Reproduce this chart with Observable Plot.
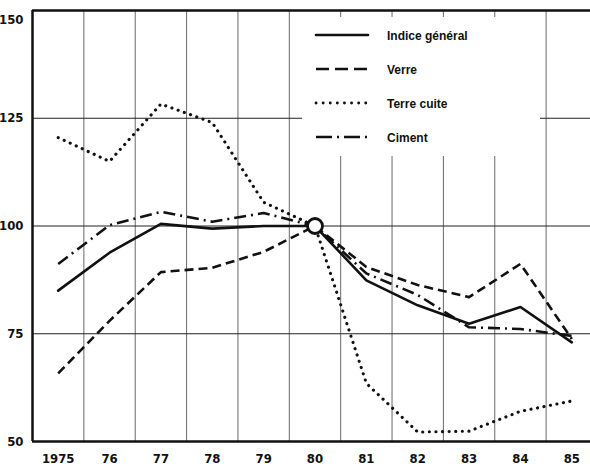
<!DOCTYPE html>
<html>
<head>
<meta charset="utf-8">
<script src="https://cdn.jsdelivr.net/npm/d3@7"></script>
<script src="https://cdn.jsdelivr.net/npm/@observablehq/plot@0.6"></script>
<style>
  html, body { margin: 0; padding: 0; background: #fff; }
  #wrap { position: relative; width: 590px; height: 468px; overflow: hidden; }
  #legend { position: absolute; left: 302px; top: 17px; width: 238px; height: 139px; background: #fff; }
  #legend svg { display: block; }
</style>
</head>
<body>
<div id="wrap"><div id="chart"></div><div id="legend"></div></div>
<script>
// Data (base 1980 = 100)
const years = [1975, 1976, 1977, 1978, 1979, 1980, 1981, 1982, 1983, 1984, 1985];
const yearLabels = ["1975", "76", "77", "78", "79", "80", "81", "82", "83", "84", "85"];
const yTicks = [50, 75, 100, 125, 150];
const seriesNames = ["Indice général", "Verre", "Terre cuite", "Ciment"];
const indiceGeneral = [85, 93.8, 100.5, 99.4, 100, 100, 87.4, 81.6, 77.3, 81.2, 73];
const verre = [65.8, 78, 89.3, 90.3, 94, 100, 90.5, 86.3, 83.5, 91.2, 73.8];
const terreCuite = [120.5, 115, 128.3, 124, 105.5, 100, 63.5, 52.2, 52.4, 57, 59.4];
const ciment = [91.2, 100.2, 103.3, 101, 103, 100, 89, 84, 76.5, 76.1, 74.5];
const baseYear = [1980];
const baseValue = [100];

const seriesValues = [indiceGeneral, verre, terreCuite, ciment];
const dashes = [null, "9,5", "0.1,6.5", "12,5,2,5"];
const caps = ["round", "butt", "round", "butt"];
const widths = [2.6, 2.6, 3.1, 2.6];

const rows = seriesNames.map((name, s) => years.map((year, i) => ({series: name, year, value: seriesValues[s][i]})));
const gridX = years.map(y => y + 0.5);
const gridY = yTicks.filter(v => v > 50 && v < 150);

const fontFam = "'Liberation Sans Narrow', 'DejaVu Sans Condensed', 'Liberation Sans', sans-serif";

const chart = Plot.plot({
  width: 590,
  height: 468,
  marginLeft: 32,
  marginRight: 0,
  marginTop: 10,
  marginBottom: 27,
  style: {fontFamily: fontFam, fontSize: "13px", fontWeight: "bold", color: "#111", background: "#fff"},
  x: {type: "linear", domain: [1974.5, 1985.364], label: null},
  y: {domain: [50, 150], label: null},
  marks: [
    Plot.ruleX(gridX, {stroke: "#6a6a6a", strokeWidth: 1}),
    Plot.ruleY(gridY, {stroke: "#222", strokeWidth: 1}),
    Plot.ruleY([150], {stroke: "#111", strokeWidth: 2.5}),
    Plot.ruleY([50], {stroke: "#111", strokeWidth: 2.5}),
    Plot.ruleX([1974.5], {stroke: "#111", strokeWidth: 2.5}),
    ...rows.map((r, s) => Plot.line(r, {
      x: "year", y: "value", stroke: "#111", strokeWidth: widths[s],
      strokeDasharray: dashes[s], strokeLinecap: caps[s], strokeLinejoin: "round"
    })),
    Plot.dot(baseYear.map((y, i) => ({year: y, value: baseValue[i]})), {x: "year", y: "value", r: 7.5, fill: "#fff", stroke: "#111", strokeWidth: 2.8}),
    Plot.axisY({ticks: yTicks, tickSize: 0, tickPadding: 9, fontSize: 13, fontWeight: "bold"}),
    Plot.axisX({ticks: years, tickFormat: (d) => yearLabels[years.indexOf(d)], tickSize: 0, tickPadding: 12, fontSize: 13, fontWeight: "bold"})
  ]
});
// nudge the top y label below the frame line like the reference
d3.select(chart).selectAll("[aria-label='y-axis tick label'] text").filter(function() { return this.textContent === "150"; }).attr("dy", "0.75em");
document.getElementById("chart").appendChild(chart);

// Legend (drawn inside a white box over the plot)
const lg = d3.select("#legend").append("svg").attr("width", 238).attr("height", 139);
seriesNames.forEach((name, s) => {
  const cy = 18 + s * 34;
  lg.append("line").attr("x1", 14).attr("x2", 66).attr("y1", cy).attr("y2", cy)
    .attr("stroke", "#111").attr("stroke-width", s === 2 ? 2.8 : 2.6)
    .attr("stroke-dasharray", s === 1 ? "13,6" : s === 2 ? "0.1,7" : s === 3 ? "16,5,2,5" : null)
    .attr("stroke-linecap", caps[s]);
  lg.append("text").attr("x", 85).attr("y", cy + 4.5).text(name)
    .attr("font-family", "'Liberation Sans', Arial, sans-serif").attr("font-weight", "bold").attr("font-size", 12).attr("fill", "#111");
});
</script>
</body>
</html>
